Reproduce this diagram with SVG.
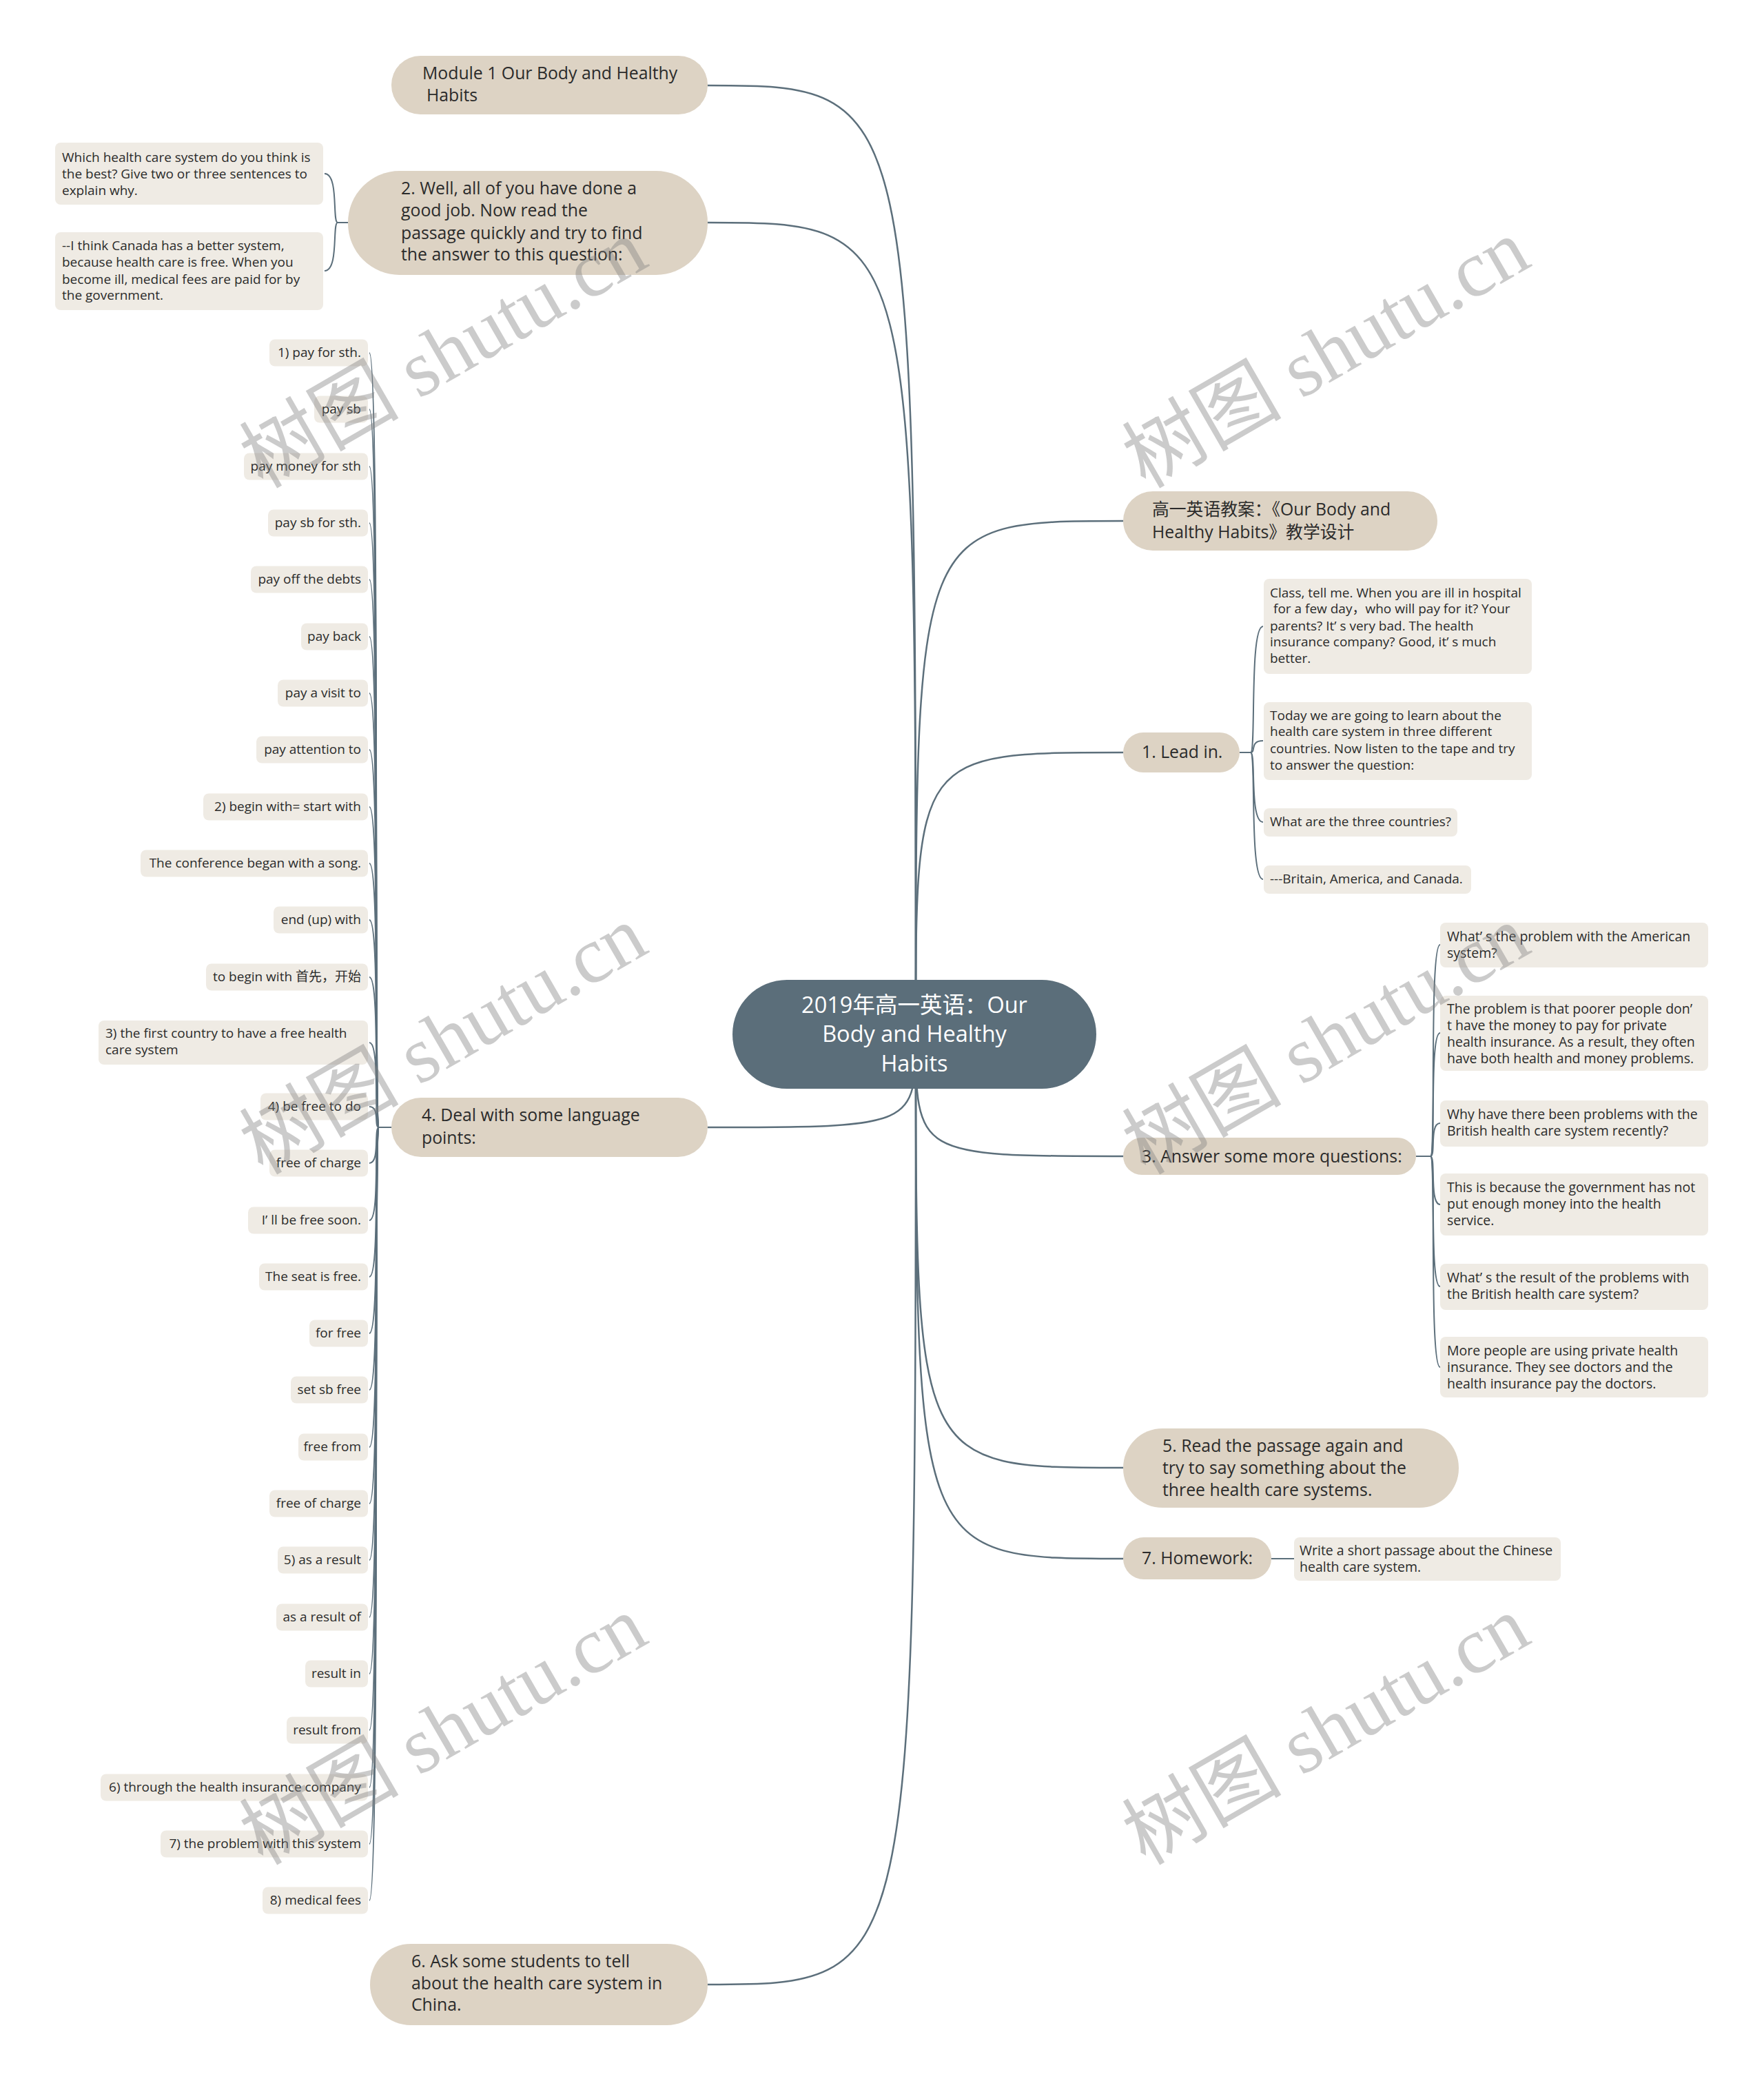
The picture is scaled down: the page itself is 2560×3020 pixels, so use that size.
<svg xmlns="http://www.w3.org/2000/svg" width="2560" height="3020" viewBox="0 0 2560 3020">
<style>
.l1{fill:#ddd3c4}
.leaf{fill:#efebe4}
.t{font-family:"Open Sans","Noto Sans CJK SC",sans-serif;fill:#2b2b2b}
.t1{font-size:24.8px}
.t2{font-size:19px}
.t3{font-size:19.5px}
.tc{font-family:"Open Sans","Noto Sans CJK SC",sans-serif;font-size:32.5px;fill:#ffffff;text-anchor:middle}
.conn{fill:none;stroke:#5c6f7b;stroke-width:2.5}
.sub{fill:none;stroke:#5c6f7b;stroke-width:2}
.wm{font-family:"Liberation Serif","Noto Sans CJK SC",serif;font-size:116px;fill:#808080;opacity:0.4;text-anchor:middle}
.r{text-anchor:end}
</style>
<rect width="2560" height="3020" fill="#ffffff"/>

<g id="connectors">
<path class="conn" d="M1027,124 C1329,124 1329,124 1329,1501"/>
<path class="conn" d="M1027,323 C1329,323 1329,323 1329,1501"/>
<path class="conn" d="M1027,1636 C1329,1636 1329,1636 1329,1501"/>
<path class="conn" d="M1027,2880 C1329,2880 1329,2880 1329,1501"/>
<path class="conn" d="M1630,756 C1329,756 1329,756 1329,1501"/>
<path class="conn" d="M1630,1092 C1329,1092 1329,1092 1329,1501"/>
<path class="conn" d="M1630,1678 C1329,1678 1329,1678 1329,1501"/>
<path class="conn" d="M1630,2130 C1329,2130 1329,2130 1329,1501"/>
<path class="conn" d="M1630,2262 C1329,2262 1329,2262 1329,1501"/>
<!-- node 2 bracket -->
<path class="sub" d="M505,323 L490,323"/>
<path class="sub" d="M490,323 C482,323 492,252 471,252"/>
<path class="sub" d="M490,323 C482,323 492,393 471,393"/>
<!-- lead in bracket -->
<path class="sub" d="M1799,1092 L1815,1092"/>
<path class="sub" d="M1815,1092 C1823,1092 1813,909 1833,909"/>
<path class="sub" d="M1815,1092 C1823,1092 1813,1075 1833,1075"/>
<path class="sub" d="M1815,1092 C1823,1092 1813,1193 1833,1193"/>
<path class="sub" d="M1815,1092 C1823,1092 1813,1276 1833,1276"/>
<!-- node 3 bracket -->
<path class="sub" d="M2055,1678 L2076,1678"/>
<path class="sub" d="M2076,1678 C2084,1678 2074,1371 2090,1371"/>
<path class="sub" d="M2076,1678 C2084,1678 2074,1499 2090,1499"/>
<path class="sub" d="M2076,1678 C2084,1678 2074,1630 2090,1630"/>
<path class="sub" d="M2076,1678 C2084,1678 2074,1748 2090,1748"/>
<path class="sub" d="M2076,1678 C2084,1678 2074,1867 2090,1867"/>
<path class="sub" d="M2076,1678 C2084,1678 2074,1984 2090,1984"/>
<!-- homework -->
<path class="sub" d="M1845,2262 L1878,2262"/>
<!-- node 4 bracket -->
<path class="sub" d="M568,1636 L550,1636"/>
<path class="sub" d="M550,1636 C542,1636 552,512 536,512"/>
<path class="sub" d="M550,1636 C542,1636 552,594 536,594"/>
<path class="sub" d="M550,1636 C542,1636 552,677 536,677"/>
<path class="sub" d="M550,1636 C542,1636 552,759 536,759"/>
<path class="sub" d="M550,1636 C542,1636 552,841 536,841"/>
<path class="sub" d="M550,1636 C542,1636 552,924 536,924"/>
<path class="sub" d="M550,1636 C542,1636 552,1006 536,1006"/>
<path class="sub" d="M550,1636 C542,1636 552,1088 536,1088"/>
<path class="sub" d="M550,1636 C542,1636 552,1171 536,1171"/>
<path class="sub" d="M550,1636 C542,1636 552,1253 536,1253"/>
<path class="sub" d="M550,1636 C542,1636 552,1335 536,1335"/>
<path class="sub" d="M550,1636 C542,1636 552,1418 536,1418"/>
<path class="sub" d="M550,1636 C542,1636 552,1513 536,1513"/>
<path class="sub" d="M550,1636 C542,1636 552,1606 536,1606"/>
<path class="sub" d="M550,1636 C542,1636 552,1688 536,1688"/>
<path class="sub" d="M550,1636 C542,1636 552,1771 536,1771"/>
<path class="sub" d="M550,1636 C542,1636 552,1853 536,1853"/>
<path class="sub" d="M550,1636 C542,1636 552,1935 536,1935"/>
<path class="sub" d="M550,1636 C542,1636 552,2017 536,2017"/>
<path class="sub" d="M550,1636 C542,1636 552,2100 536,2100"/>
<path class="sub" d="M550,1636 C542,1636 552,2182 536,2182"/>
<path class="sub" d="M550,1636 C542,1636 552,2264 536,2264"/>
<path class="sub" d="M550,1636 C542,1636 552,2347 536,2347"/>
<path class="sub" d="M550,1636 C542,1636 552,2429 536,2429"/>
<path class="sub" d="M550,1636 C542,1636 552,2511 536,2511"/>
<path class="sub" d="M550,1636 C542,1636 552,2594 536,2594"/>
<path class="sub" d="M550,1636 C542,1636 552,2676 536,2676"/>
<path class="sub" d="M550,1636 C542,1636 552,2758 536,2758"/>
</g>

<g id="center">
<rect x="1063" y="1422" width="528" height="158" rx="79" fill="#5b6e7a"/>
<text class="tc" x="1327" y="1470">2019年高一英语：Our</text>
<text class="tc" x="1327" y="1512">Body and Healthy</text>
<text class="tc" x="1327" y="1555">Habits</text>
</g>

<g id="module1">
<rect class="l1" x="568" y="81" width="459" height="85" rx="42"/>
<text class="t t1" x="613" y="115">Module 1 Our Body and Healthy</text>
<text class="t t1" x="619" y="147">Habits</text>
</g>

<g id="node2">
<rect class="l1" x="505" y="248" width="522" height="151" rx="75"/>
<text class="t t1" x="582" y="282">2. Well, all of you have done a</text>
<text class="t t1" x="582" y="314">good job. Now read the</text>
<text class="t t1" x="582" y="347">passage quickly and try to find</text>
<text class="t t1" x="582" y="378">the answer to this question:</text>
</g>
<g id="node2-c1">
<rect class="leaf" x="80" y="207" width="389" height="90" rx="8"/>
<text class="t t2" x="90" y="235">Which health care system do you think is</text>
<text class="t t2" x="90" y="259">the best? Give two or three sentences to</text>
<text class="t t2" x="90" y="283">explain why.</text>
</g>
<g id="node2-c2">
<rect class="leaf" x="80" y="337" width="389" height="113" rx="8"/>
<text class="t t2" x="90" y="363">--I think Canada has a better system,</text>
<text class="t t2" x="90" y="387">because health care is free. When you</text>
<text class="t t2" x="90" y="412">become ill, medical fees are paid for by</text>
<text class="t t2" x="90" y="435">the government.</text>
</g>

<g id="node4">
<rect class="l1" x="568" y="1593" width="459" height="86" rx="43"/>
<text class="t t1" x="612" y="1627">4. Deal with some language</text>
<text class="t t1" x="612" y="1660">points:</text>
</g>
<g id="n4-0"><rect class="leaf" x="391" y="492.5" width="143" height="39" rx="8"/><text class="t t2 r" x="524" y="518">1) pay for sth.</text></g>
<g id="n4-1"><rect class="leaf" x="456" y="574.5" width="78" height="39" rx="8"/><text class="t t2 r" x="524" y="600">pay sb</text></g>
<g id="n4-2"><rect class="leaf" x="354" y="657.5" width="180" height="39" rx="8"/><text class="t t2 r" x="524" y="683">pay money for sth</text></g>
<g id="n4-3"><rect class="leaf" x="389" y="739.5" width="145" height="39" rx="8"/><text class="t t2 r" x="524" y="765">pay sb for sth.</text></g>
<g id="n4-4"><rect class="leaf" x="364" y="821.5" width="170" height="39" rx="8"/><text class="t t2 r" x="524" y="847">pay off the debts</text></g>
<g id="n4-5"><rect class="leaf" x="437" y="904.5" width="97" height="39" rx="8"/><text class="t t2 r" x="524" y="930">pay back</text></g>
<g id="n4-6"><rect class="leaf" x="403" y="986.5" width="131" height="39" rx="8"/><text class="t t2 r" x="524" y="1012">pay a visit to</text></g>
<g id="n4-7"><rect class="leaf" x="372" y="1068.5" width="162" height="39" rx="8"/><text class="t t2 r" x="524" y="1094">pay attention to</text></g>
<g id="n4-8"><rect class="leaf" x="295" y="1151.5" width="239" height="39" rx="8"/><text class="t t2 r" x="524" y="1177">2) begin with= start with</text></g>
<g id="n4-9"><rect class="leaf" x="204" y="1233.5" width="330" height="39" rx="8"/><text class="t t2 r" x="524" y="1259">The conference began with a song.</text></g>
<g id="n4-10"><rect class="leaf" x="397" y="1315.5" width="137" height="39" rx="8"/><text class="t t2 r" x="524" y="1341">end (up) with</text></g>
<g id="n4-11"><rect class="leaf" x="299" y="1398.5" width="235" height="39" rx="8"/><text class="t t2 r" x="524" y="1424">to begin with 首先，开始</text></g>
<g id="n4-12"><rect class="leaf" x="143" y="1481" width="391" height="64" rx="8"/><text class="t t2" x="153" y="1506">3) the first country to have a free health</text><text class="t t2" x="153" y="1530">care system</text></g>
<g id="n4-13"><rect class="leaf" x="378" y="1586.5" width="156" height="39" rx="8"/><text class="t t2 r" x="524" y="1612">4) be free to do</text></g>
<g id="n4-14"><rect class="leaf" x="391" y="1668.5" width="143" height="39" rx="8"/><text class="t t2 r" x="524" y="1694">free of charge</text></g>
<g id="n4-15"><rect class="leaf" x="360" y="1751.5" width="174" height="39" rx="8"/><text class="t t2 r" x="524" y="1777">I’ ll be free soon.</text></g>
<g id="n4-16"><rect class="leaf" x="376" y="1833.5" width="158" height="39" rx="8"/><text class="t t2 r" x="524" y="1859">The seat is free.</text></g>
<g id="n4-17"><rect class="leaf" x="449" y="1915.5" width="85" height="39" rx="8"/><text class="t t2 r" x="524" y="1941">for free</text></g>
<g id="n4-18"><rect class="leaf" x="422" y="1997.5" width="112" height="39" rx="8"/><text class="t t2 r" x="524" y="2023">set sb free</text></g>
<g id="n4-19"><rect class="leaf" x="433" y="2080.5" width="101" height="39" rx="8"/><text class="t t2 r" x="524" y="2106">free from</text></g>
<g id="n4-20"><rect class="leaf" x="391" y="2162.5" width="143" height="39" rx="8"/><text class="t t2 r" x="524" y="2188">free of charge</text></g>
<g id="n4-21"><rect class="leaf" x="403" y="2244.5" width="131" height="39" rx="8"/><text class="t t2 r" x="524" y="2270">5) as a result</text></g>
<g id="n4-22"><rect class="leaf" x="401" y="2327.5" width="133" height="39" rx="8"/><text class="t t2 r" x="524" y="2353">as a result of</text></g>
<g id="n4-23"><rect class="leaf" x="443" y="2409.5" width="91" height="39" rx="8"/><text class="t t2 r" x="524" y="2435">result in</text></g>
<g id="n4-24"><rect class="leaf" x="416" y="2491.5" width="118" height="39" rx="8"/><text class="t t2 r" x="524" y="2517">result from</text></g>
<g id="n4-25"><rect class="leaf" x="146" y="2574.5" width="388" height="39" rx="8"/><text class="t t2 r" x="524" y="2600">6) through the health insurance company</text></g>
<g id="n4-26"><rect class="leaf" x="233" y="2656.5" width="301" height="39" rx="8"/><text class="t t2 r" x="524" y="2682">7) the problem with this system</text></g>
<g id="n4-27"><rect class="leaf" x="381" y="2738.5" width="153" height="39" rx="8"/><text class="t t2 r" x="524" y="2764">8) medical fees</text></g>

<g id="node6">
<rect class="l1" x="537" y="2821" width="490" height="118" rx="59"/>
<text class="t t1" x="597" y="2855">6. Ask some students to tell</text>
<text class="t t1" x="597" y="2887">about the health care system in</text>
<text class="t t1" x="597" y="2918">China.</text>
</g>

<g id="gaoyi">
<rect class="l1" x="1630" y="713" width="456" height="86" rx="43"/>
<text class="t t1" x="1672" y="748">高一英语教案：《Our Body and</text>
<text class="t t1" x="1672" y="781">Healthy Habits》教学设计</text>
</g>

<g id="leadin">
<rect class="l1" x="1630" y="1063" width="169" height="58" rx="29"/>
<text class="t t1" x="1657" y="1100">1. Lead in.</text>
</g>
<g id="lead-c1">
<rect class="leaf" x="1834" y="840" width="389" height="138" rx="8"/>
<text class="t t2" x="1843" y="867">Class, tell me. When you are ill in hospital</text>
<text class="t t2" x="1848" y="890">for a few day，who will pay for it? Your</text>
<text class="t t2" x="1843" y="915">parents? It’ s very bad. The health</text>
<text class="t t2" x="1843" y="938">insurance company? Good, it’ s much</text>
<text class="t t2" x="1843" y="962">better.</text>
</g>
<g id="lead-c2">
<rect class="leaf" x="1834" y="1019" width="389" height="113" rx="8"/>
<text class="t t2" x="1843" y="1045">Today we are going to learn about the</text>
<text class="t t2" x="1843" y="1068">health care system in three different</text>
<text class="t t2" x="1843" y="1093">countries. Now listen to the tape and try</text>
<text class="t t2" x="1843" y="1117">to answer the question:</text>
</g>
<g id="lead-c3">
<rect class="leaf" x="1834" y="1173" width="281" height="41" rx="8"/>
<text class="t t2" x="1843" y="1199">What are the three countries?</text>
</g>
<g id="lead-c4">
<rect class="leaf" x="1834" y="1256" width="301" height="41" rx="8"/>
<text class="t t2" x="1843" y="1282">---Britain, America, and Canada.</text>
</g>

<g id="node3">
<rect class="l1" x="1630" y="1651" width="425" height="54" rx="27"/>
<text class="t t1" x="1657" y="1687">3. Answer some more questions:</text>
</g>
<g id="n3-c1">
<rect class="leaf" x="2090" y="1339" width="389" height="65" rx="8"/>
<text class="t t3" x="2100" y="1366">What’  s the problem with the American</text>
<text class="t t3" x="2100" y="1390">system?</text>
</g>
<g id="n3-c2">
<rect class="leaf" x="2090" y="1445" width="389" height="109" rx="8"/>
<text class="t t3" x="2100" y="1471">The problem is that poorer people don’</text>
<text class="t t3" x="2100" y="1495">t have the money to pay for private</text>
<text class="t t3" x="2100" y="1519">health insurance. As a result, they often</text>
<text class="t t3" x="2100" y="1543">have both health and money problems.</text>
</g>
<g id="n3-c3">
<rect class="leaf" x="2090" y="1597" width="389" height="67" rx="8"/>
<text class="t t3" x="2100" y="1624">Why have there been problems with the</text>
<text class="t t3" x="2100" y="1648">British health care system recently?</text>
</g>
<g id="n3-c4">
<rect class="leaf" x="2090" y="1703" width="389" height="90" rx="8"/>
<text class="t t3" x="2100" y="1730">This is because the government has not</text>
<text class="t t3" x="2100" y="1754">put enough money into the health</text>
<text class="t t3" x="2100" y="1778">service.</text>
</g>
<g id="n3-c5">
<rect class="leaf" x="2090" y="1834" width="389" height="67" rx="8"/>
<text class="t t3" x="2100" y="1861">What’ s the result of the problems with</text>
<text class="t t3" x="2100" y="1885">the British health care system?</text>
</g>
<g id="n3-c6">
<rect class="leaf" x="2090" y="1940" width="389" height="88" rx="8"/>
<text class="t t3" x="2100" y="1967">More people are using private health</text>
<text class="t t3" x="2100" y="1991">insurance. They see doctors and the</text>
<text class="t t3" x="2100" y="2015">health insurance pay the doctors.</text>
</g>

<g id="node5">
<rect class="l1" x="1630" y="2073" width="487" height="115" rx="57"/>
<text class="t t1" x="1687" y="2107">5. Read the passage again and</text>
<text class="t t1" x="1687" y="2139">try to say something about the</text>
<text class="t t1" x="1687" y="2171">three health care systems.</text>
</g>

<g id="node7">
<rect class="l1" x="1630" y="2231" width="215" height="61" rx="30"/>
<text class="t t1" x="1657" y="2270">7. Homework:</text>
</g>
<g id="node7-c1">
<rect class="leaf" x="1878" y="2231" width="387" height="63" rx="8"/>
<text class="t t3" x="1886" y="2257">Write a short passage about the Chinese</text>
<text class="t t3" x="1886" y="2281">health care system.</text>
</g>

<g id="watermarks">
<text class="wm" x="645" y="552" transform="rotate(-30 645 516)">树图 shutu.cn</text>
<text class="wm" x="1926" y="552" transform="rotate(-30 1926 516)">树图 shutu.cn</text>
<text class="wm" x="645" y="1548" transform="rotate(-30 645 1512)">树图 shutu.cn</text>
<text class="wm" x="1926" y="1548" transform="rotate(-30 1926 1512)">树图 shutu.cn</text>
<text class="wm" x="645" y="2550" transform="rotate(-30 645 2514)">树图 shutu.cn</text>
<text class="wm" x="1926" y="2550" transform="rotate(-30 1926 2514)">树图 shutu.cn</text>
</g>
</svg>
